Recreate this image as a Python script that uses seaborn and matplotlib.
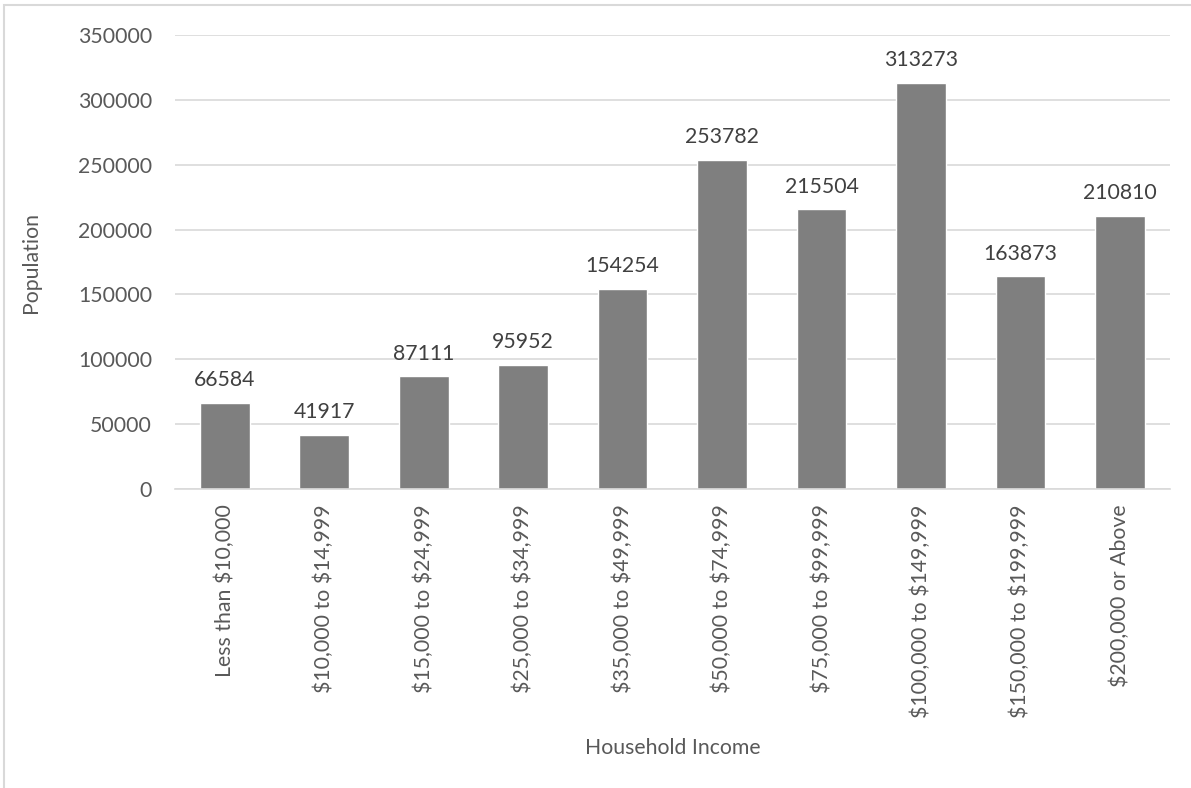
import matplotlib
matplotlib.use("Agg")
import matplotlib.pyplot as plt
import seaborn as sns
import pandas as pd
from matplotlib.patches import Rectangle

# Datos del gráfico
categorias = ["Less than $10,000", "$10,000 to $14,999", "$15,000 to $24,999",
              "$25,000 to $34,999", "$35,000 to $49,999", "$50,000 to $74,999",
              "$75,000 to $99,999", "$100,000 to $149,999", "$150,000 to $199,999",
              "$200,000 or Above"]
poblacion = [66584, 41917, 87111, 95952, 154254, 253782, 215504, 313273, 163873, 210810]
ticks_y = [0, 50000, 100000, 150000, 200000, 250000, 300000, 350000]

df = pd.DataFrame({"Household Income": categorias, "Population": poblacion})

sns.set_style("white")
plt.rcParams["font.family"] = ["Lato", "DejaVu Sans"]
plt.rcParams["text.parse_math"] = False   # los "$" son texto, no mathtext
texto = "#595959"
tam = 15.3

fig = plt.figure(figsize=(11.91, 7.88), dpi=100)
ax = fig.add_axes([0.147, 0.3794, 0.835, 0.5762])

sns.barplot(data=df, x="Household Income", y="Population", color="#7f7f7f",
            saturation=1, width=0.5, ax=ax)

# Etiquetas de valor sobre las barras
for cont in ax.containers:
    ax.bar_label(cont, labels=[str(v) for v in poblacion], padding=9,
                 fontsize=tam, color="#404040")

ax.set_ylim(0, 350000)
ax.set_xlim(-0.5, len(categorias) - 0.5)
ax.set_yticks(ticks_y)
ax.set_yticklabels([str(t) for t in ticks_y], fontsize=tam, color=texto)
ax.set_xticks(range(len(categorias)))
ax.set_xticklabels(categorias, rotation=90, fontsize=tam, color=texto)
ax.tick_params(axis="y", length=0, pad=16.5)
ax.tick_params(axis="x", length=0, pad=11)

ax.yaxis.grid(True, color="#d9d9d9", linewidth=1.2)
ax.set_axisbelow(True)
for lado in ["top", "right", "left"]:
    ax.spines[lado].set_visible(False)
ax.spines["bottom"].set_color("#d9d9d9")
ax.spines["bottom"].set_linewidth(1.2)

ax.set_xlabel("Household Income", fontsize=tam, color=texto)
ax.set_ylabel("Population", fontsize=tam, color=texto)
ax.xaxis.set_label_coords(0.5, -0.548)
ax.yaxis.set_label_coords(-0.135, 0.5)

# Borde del área del gráfico
fig.patches.append(Rectangle((4 / 1191, -0.1), 1.2, 1 - 5 / 788 + 0.1,
                             transform=fig.transFigure, fill=False,
                             edgecolor="#d9d9d9", linewidth=1.5))

fig.savefig("out.png", dpi=100)
